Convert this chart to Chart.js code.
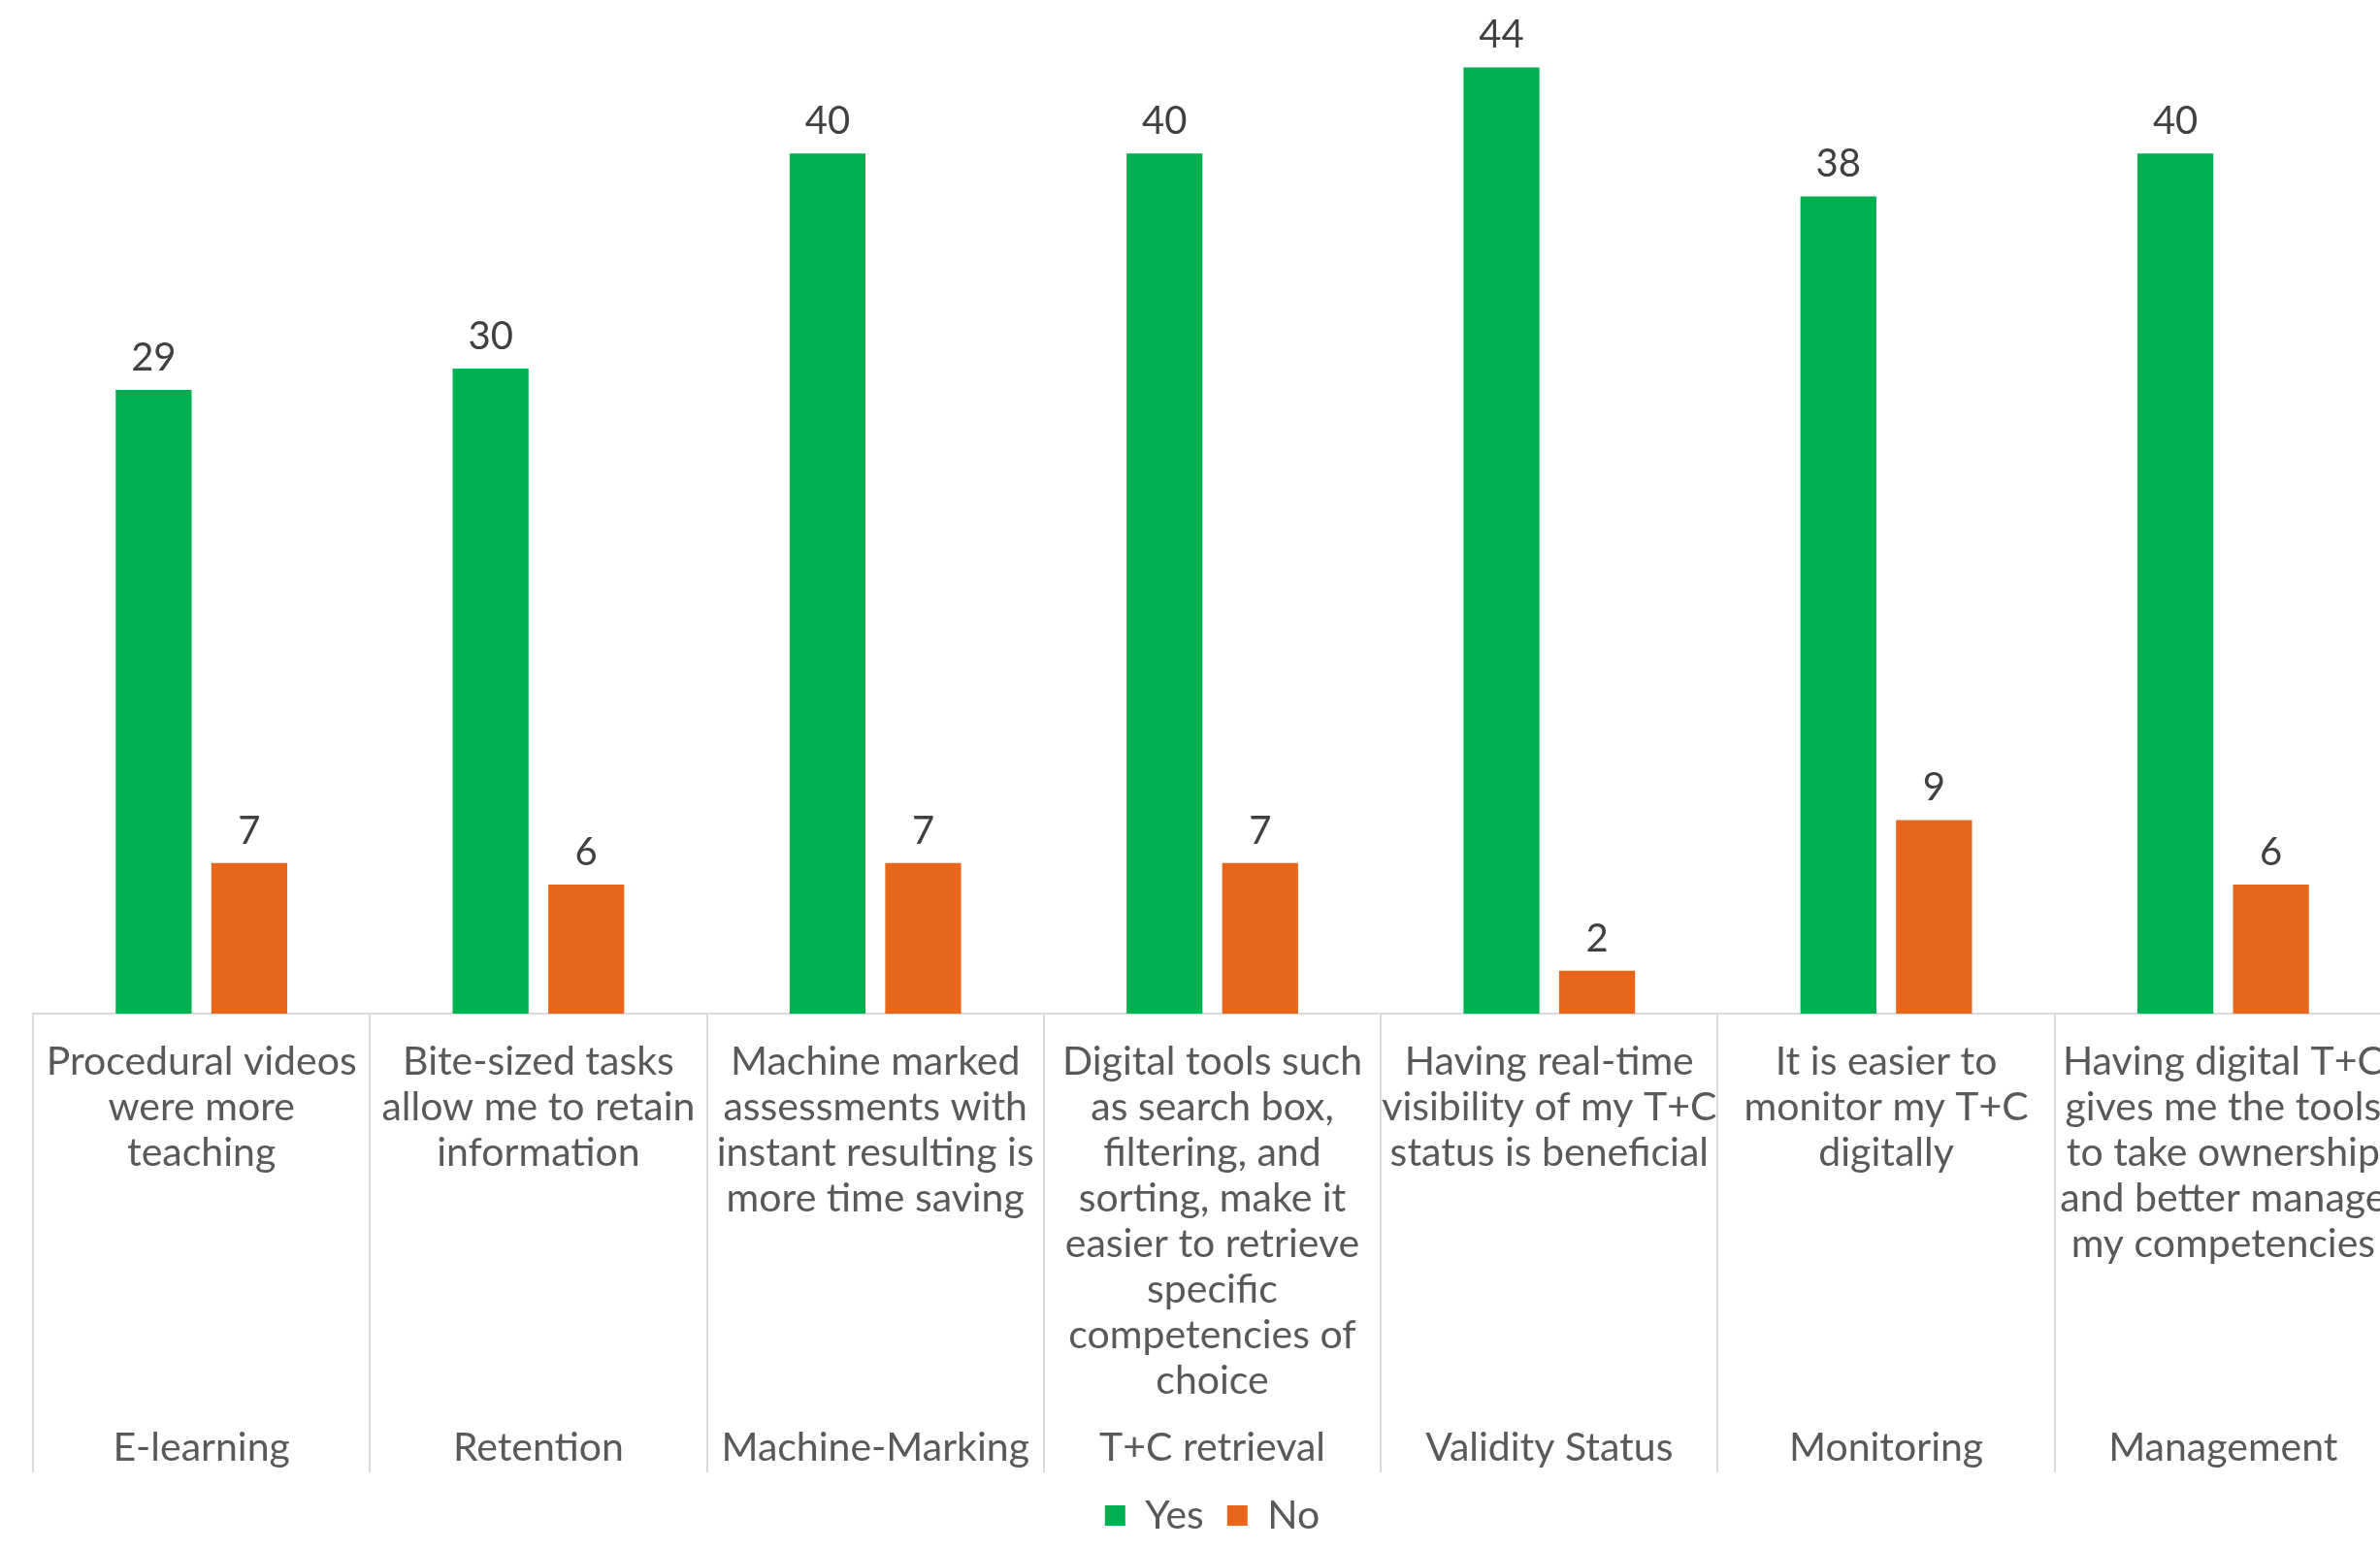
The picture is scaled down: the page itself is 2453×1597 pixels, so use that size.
<!DOCTYPE html>
<html>
<head>
<meta charset="utf-8">
<script src="https://cdn.jsdelivr.net/npm/chart.js"></script>
<style>
  html, body { margin: 0; padding: 0; overflow: hidden; background: #fff; }
  #wrap { width: 2512px; height: 1597px; position: relative; }
</style>
</head>
<body>
<div id="wrap"><canvas id="chart"></canvas></div>
<script>
// --- data ---
const groups = ['E-learning', 'Retention', 'Machine-Marking', 'T+C retrieval', 'Validity Status', 'Monitoring', 'Management'];
const statements = [
  ['Procedural videos', 'were more', 'teaching'],
  ['Bite-sized tasks', 'allow me to retain', 'information'],
  ['Machine marked', 'assessments with', 'instant resulting is', 'more time saving'],
  ['Digital tools such', 'as search box,', 'filtering, and', 'sorting, make it', 'easier to retrieve', 'specific', 'competencies of', 'choice'],
  ['Having real-time', 'visibility of my T+C', 'status is beneficial'],
  ['It is easier to', 'monitor my T+C', 'digitally'],
  ['Having digital T+C', 'gives me the tools', 'to take ownership', 'and better manage', 'my competencies']
];
const yesValues = [29, 30, 40, 40, 44, 38, 40];
const noValues = [7, 6, 7, 7, 2, 9, 6];

const FONT = 'Lato, "Open Sans", sans-serif';
const SIZE = 41;
const TEXT = '#595959';
const LINE = '#d9d9d9';

// value labels above the bars
const valueLabels = {
  id: 'valueLabels',
  afterDatasetsDraw(chart) {
    const ctx = chart.ctx;
    ctx.save();
    ctx.font = '40px ' + FONT;
    ctx.fillStyle = '#404040';
    ctx.textAlign = 'center';
    ctx.textBaseline = 'middle';
    chart.data.datasets.forEach((ds, i) => {
      chart.getDatasetMeta(i).data.forEach((bar, j) => {
        ctx.fillText(String(ds.data[j]), bar.x, bar.y - 33);
      });
    });
    ctx.restore();
  }
};

new Chart(document.getElementById('chart'), {
  type: 'bar',
  data: {
    labels: statements,
    datasets: [
      { label: 'Yes', data: yesValues, backgroundColor: '#00b050' },
      { label: 'No', data: noValues, backgroundColor: '#e8661a' }
    ]
  },
  options: {
    responsive: true,
    maintainAspectRatio: false,
    animation: false,
    categoryPercentage: 0.5676,
    barPercentage: 0.794,
    layout: { padding: { left: 34, right: 47, top: 3, bottom: 4 } },
    plugins: {
      tooltip: { enabled: false },
      legend: {
        position: 'bottom',
        labels: {
          color: TEXT,
          font: { family: FONT, size: SIZE },
          boxWidth: 21,
          boxHeight: 21,
          padding: 24
        }
      }
    },
    scales: {
      y: { display: false, min: 0, max: 47 },
      // statement labels; its tick marks are the long dividers
      x: {
        type: 'category',
        offset: true,
        border: { display: true, color: LINE, width: 2 },
        grid: { offset: true, drawOnChartArea: false, drawTicks: true, tickLength: 473, color: LINE, lineWidth: 2 },
        ticks: {
          autoSkip: false, maxRotation: 0, minRotation: 0,
          mirror: true,
          color: TEXT,
          font: { family: FONT, size: SIZE, lineHeight: 47 / SIZE },
          padding: -73.5
        }
      },
      // group labels
      x2: {
        type: 'category',
        axis: 'x',
        position: 'bottom',
        labels: groups,
        offset: true,
        border: { display: false },
        grid: { offset: true, drawOnChartArea: false, drawTicks: true, tickLength: 97, color: 'rgba(0,0,0,0)' },
        ticks: {
          autoSkip: false, maxRotation: 0, minRotation: 0,
          color: TEXT,
          font: { family: FONT, size: SIZE, lineHeight: 47 / SIZE },
          padding: 1.5
        }
      }
    }
  },
  plugins: [valueLabels]
});
</script>
</body>
</html>
